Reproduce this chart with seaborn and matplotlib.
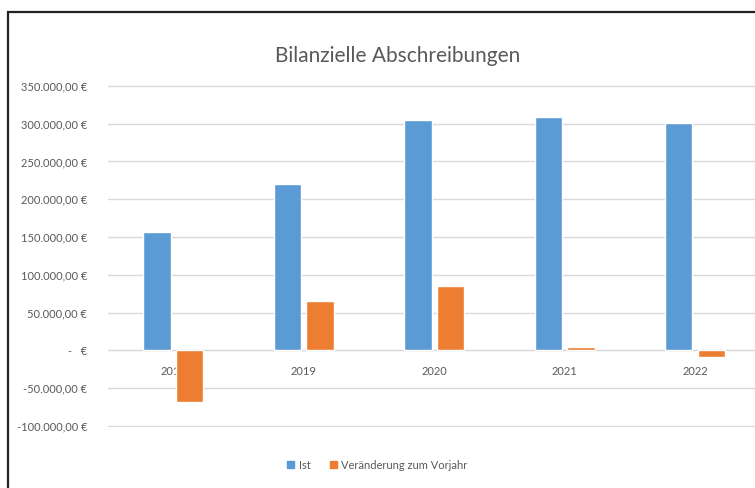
import pandas as pd
import matplotlib.pyplot as plt
import seaborn as sns
from matplotlib.patches import Rectangle
from matplotlib.ticker import FuncFormatter

# Data
years = ["2018", "2019", "2020", "2021", "2022"]
ist = [157000, 220000, 305000, 309000, 301000]
veraenderung = [-68000, 65000, 85000, 4000, -8000]
series_names = ["Ist", "Veränderung zum Vorjahr"]
colors = ["#5B9BD5", "#ED7D31"]
y_ticks = [-100000, -50000, 0, 50000, 100000, 150000, 200000, 250000, 300000, 350000]

df = pd.DataFrame({
    "Jahr": years * 2,
    "Wert": ist + veraenderung,
    "Reihe": [series_names[0]] * len(years) + [series_names[1]] * len(years),
})

sns.set_style("white")
plt.rcParams["font.family"] = ["Lato", "DejaVu Sans"]
text_color = "#595959"


def euro(v, pos=None):
    if abs(v) < 1:
        return "-   €"
    s = f"{v:,.2f}"
    s = s.replace(",", "X").replace(".", ",").replace("X", ".")
    return s + " €"


fig = plt.figure(figsize=(7.55, 4.88), dpi=100)
ax = fig.add_axes([0.143, 0.126, 0.864, 0.699])

sns.barplot(data=df, x="Jahr", y="Wert", hue="Reihe", palette=colors,
            saturation=1, width=0.5, gap=0.16, ax=ax, legend=False, zorder=3)

ax.set_ylim(-100600, 350600)
ax.set_yticks(y_ticks)
ax.yaxis.set_major_formatter(FuncFormatter(euro))
ax.grid(axis="y", color="#D9D9D9", linewidth=1, zorder=0)
ax.set_axisbelow(True)
for side in ["top", "right", "left"]:
    ax.spines[side].set_visible(False)
ax.spines["bottom"].set_position(("data", 0))
ax.spines["bottom"].set_color("#D9D9D9")
ax.spines["bottom"].set_zorder(2)
ax.tick_params(axis="both", length=0, colors=text_color, labelsize=8)
ax.tick_params(axis="y", pad=15)
ax.tick_params(axis="x", pad=11)
ax.set_xlabel("")
ax.set_ylabel("")

fig.suptitle("Bilanzielle Abschreibungen", x=0.526, y=0.905, fontsize=15,
             color=text_color)

handles = [plt.Rectangle((0, 0), 1, 1, color=c) for c in colors]
fig.legend(handles, series_names, loc="center", bbox_to_anchor=(0.5, 0.047),
           ncol=2, frameon=False, fontsize=8, labelcolor=text_color,
           handlelength=0.6, handleheight=0.6, handletextpad=0.4,
           columnspacing=1.8)

# chart frame like the screenshot
fig.add_artist(Rectangle((0.0106, -0.05), 1.2, 1.025, transform=fig.transFigure,
                         fill=False, edgecolor="#222222", linewidth=1.6,
                         clip_on=False))

fig.savefig("out.png", dpi=100)
